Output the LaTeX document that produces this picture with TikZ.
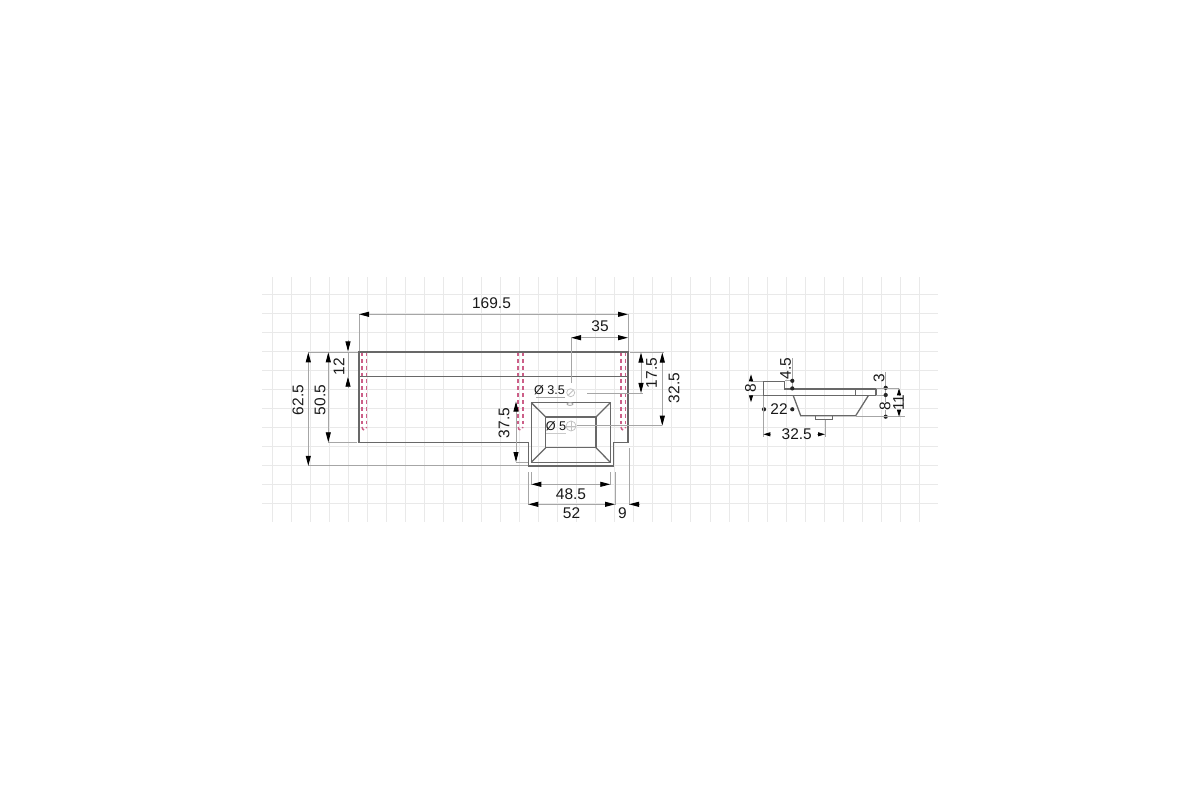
\documentclass[tikz,border=0pt]{standalone}
\usepackage{fontspec}
\setmainfont{Liberation Sans}
\usepackage{xcolor}
\usetikzlibrary{arrows.meta}
\definecolor{gridgray}{HTML}{E9E9E9}
\definecolor{dimgray}{HTML}{A6A6A6}
\definecolor{edgegray}{HTML}{686868}
\definecolor{holered}{HTML}{CC5F88}
\tikzset{
    sheetgrid/.style={gridgray, line width=0.28pt},
    outline/.style={edgegray, line width=0.36pt},
    dimline/.style={dimgray, line width=0.24pt},
    dimarrow/.style={dimgray, line width=0.24pt, -{Stealth[length=0.1cm, width=0.05cm, black, inset=0pt]}},
    tinyarrow/.style={dimgray, line width=0.24pt, -{Stealth[length=0.07cm, width=0.04cm, black, inset=0pt]}},
    holeline/.style={holered, line width=0.42pt, dash pattern=on 1.1pt off 0.85pt},
    label/.style={inner sep=0pt, text=black!90, font=\fontsize{4.4}{5}\selectfont},
    smalllabel/.style={label, font=\fontsize{3.6}{4}\selectfont},
    spot/.style={black!85, fill, inner sep=0pt, minimum size=0.042cm, circle},
    ringmark/.style={dimgray!70, draw, circle, line width=0.2pt, inner sep=0pt}
}
\begin{document}
\begin{tikzpicture}[x=0.01cm, y=-0.01cm]
    \useasboundingbox[fill=white] (0,0) rectangle (1200,800);
    % sheet grid
    \foreach \x in {0,...,34}
        \draw[sheetgrid] (272.3+19.03*\x,277) -- (272.3+19.03*\x,522);
    \foreach \y in {0,...,11}
        \draw[sheetgrid] (262,294.3+19.03*\y) -- (938,294.3+19.03*\y);
    % fixing holes
    \foreach \x in {362,518.2,621}{
        \draw[holeline] (\x,352) -- (\x,427);
        \draw[holeline] (\x+4.6,352) -- (\x+4.6,427);
        \draw[holeline] (\x,427) arc[start angle=180, end angle=0, x radius=2.3, y radius=3];
    }
    % top view
    \draw[outline] (359,352) -- (628,352) -- (628,442.3) -- (613.5,442.3) -- (613.5,466) -- (528.3,466) -- (528.3,442.3) -- (359,442.3) -- cycle;
    \draw[outline] (359,376.7) -- (628,376.7);
    \draw[outline] (531.3,402.7) rectangle (610.3,462.3);
    \draw[outline] (545.7,417) rectangle (596,447.7);
    \foreach \a/\b in {531.3/545.7,610.3/596}{
        \draw[outline] (\a,402.7) -- (\b,417);
        \draw[outline] (\a,462.3) -- (\b,447.7);
    }
    \draw[dimline] (570,404) ellipse (3 and 1.4);
    % overall sizes
    \draw[dimline] (359,314.3) -- (359,351);
    \draw[dimline] (628,314.3) -- (628,351);
    \draw[dimarrow] (369,314.3) -- (359,314.3);
    \draw[dimarrow] (369,314.3) -- (628,314.3);
    \node[label] (len) at (491.5,303.5) {169.5};
    \draw[dimline] (571,337.7) -- (571,383);
    \draw[dimarrow] (581,337.7) -- (571,337.7);
    \draw[dimarrow] (581,337.7) -- (628,337.7);
    \node[label] (edge) at (600,326.5) {35};
    % left side
    \draw[dimline] (308.3,352.3) -- (358,352.3);
    \draw[dimline] (308.3,465.8) -- (528,465.8);
    \draw[dimline] (328.3,442.3) -- (357,442.3);
    \draw[dimarrow] (308.3,400) -- (308.3,352.3);
    \draw[dimarrow] (308.3,400) -- (308.3,465.8);
    \draw[dimarrow] (328.3,400) -- (328.3,352.3);
    \draw[dimarrow] (328.3,400) -- (328.3,442.3);
    \node[label, rotate=90] (full) at (298,400) {62.5};
    \node[label, rotate=90] (deck) at (320,400) {50.5};
    \draw[dimline] (348,352) -- (348,376.7);
    \draw[dimarrow] (348,340) -- (348,351.5);
    \draw[dimarrow] (348,387) -- (348,376.7);
    \node[label, rotate=90] (shelf) at (339,366.7) {12};
    % right side
    \draw[dimline] (630,352) -- (664,352);
    \draw[dimline] (587,393) -- (643,393);
    \draw[dimline] (577,425.7) -- (662.3,425.7);
    \draw[dimarrow] (641,372) -- (641,352.5);
    \draw[dimarrow] (641,372) -- (641,393);
    \draw[dimarrow] (662.3,388) -- (662.3,352.5);
    \draw[dimarrow] (662.3,388) -- (662.3,425.7);
    \node[label, rotate=90] (holea) at (651.7,373) {17.5};
    \node[label, rotate=90] (holeb) at (674,388) {32.5};
    % tap hole and drain
    \node[smalllabel] (tap) at (549.5,390) {Ø 3.5};
    \draw[dimline] (536,397) -- (565,397);
    \node[ringmark, minimum size=0.08cm] (taphole) at (570.7,392.7) {};
    \draw[dimline, dimgray!70] (568,395.5) -- (573.5,390);
    \node[smalllabel] (drain) at (556,426.5) {Ø 5};
    \draw[dimline, dimgray!60] (546,433) -- (566,433);
    \node[ringmark, minimum size=0.1cm] (drainhole) at (571,426) {};
    \draw[dimline, dimgray!70] (drainhole.north) -- (drainhole.south);
    \draw[dimline, dimgray!70] (drainhole.west) -- (drainhole.east);
    \draw[dimline] (516,462) -- (528,462);
    \draw[dimarrow] (516,430) -- (516,401.5);
    \draw[dimarrow] (516,430) -- (516,462);
    \node[label, rotate=90] (basin) at (504,423) {37.5};
    % below
    \draw[dimline] (531.3,472) -- (531.3,485);
    \draw[dimline] (610.3,472) -- (610.3,485);
    \draw[dimline] (528.3,472) -- (528.3,505);
    \draw[dimline] (615,472) -- (615,505);
    \draw[dimline] (629,448) -- (629,505);
    \draw[dimarrow] (571,484.3) -- (531.3,484.3);
    \draw[dimarrow] (571,484.3) -- (610.3,484.3);
    \node[label] (inner) at (571,494) {48.5};
    \draw[dimarrow] (571,504.3) -- (528.3,504.3);
    \draw[dimarrow] (571,504.3) -- (615,504.3);
    \node[label] (outer) at (571.5,513.5) {52};
    \draw[dimarrow] (640,504.3) -- (629,504.3);
    \node[label] (stepw) at (622.5,513.5) {9};
    % side view
    \draw[outline] (763.3,381.7) -- (784.5,381.7) -- (784.5,389) -- (876,389) -- (876,395.7) -- (763.3,395.7) -- cycle;
    \draw[outline] (855.7,389) -- (855.7,395.7);
    \draw[outline] (793.3,395.7) -- (800.7,415.7) -- (855.7,415.7) -- (868.3,395.7);
    \draw[outline] (815.3,415.7) rectangle (832.7,419.7);
    \draw[dimline] (751,381.7) -- (763,381.7);
    \draw[dimline] (751,395.7) -- (763,395.7);
    \draw[tinyarrow] (751,381.7) -- (751,374.3);
    \draw[tinyarrow] (751,395.7) -- (751,402.3);
    \node[label, rotate=90] (lip) at (750.5,388.5) {8};
    \draw[dimline] (792.3,358) -- (792.3,389);
    \draw[dimline] (785,380.8) -- (792,380.8);
    \node[spot] (lipa) at (792.3,380.8) {};
    \node[spot] (lipb) at (792.3,388.4) {};
    \node[label, rotate=90] (liptext) at (785.7,368.3) {4.5};
    \draw[dimline] (885.7,372) -- (885.7,416.7);
    \draw[dimline] (876,395.2) -- (886,395.2);
    \node[spot] (rima) at (885.7,387.8) {};
    \node[spot] (rimb) at (885.7,395) {};
    \node[spot] (rimc) at (885.7,416.7) {};
    \node[label, rotate=90] (rim) at (879,378) {3};
    \node[label, rotate=90, fill=white] (bowl) at (885,406) {8};
    \draw[dimline] (856,416.7) -- (905,416.7);
    \draw[dimline] (876,388.3) -- (899,388.3);
    \draw[tinyarrow] (899,395) -- (899,388.3);
    \draw[tinyarrow] (899,410) -- (899,416.7);
    \node[label, rotate=90] (total) at (898.5,402.7) {11};
    \node[spot] (bowla) at (764,409.3) {};
    \node[spot] (bowlb) at (792.3,409.3) {};
    \node[label] (bowlw) at (779,409.3) {22};
    \draw[dimline] (763.3,396) -- (763.3,437);
    \draw[dimline] (825,420) -- (825,437);
    \draw[tinyarrow] (771,434.3) -- (763.3,434.3);
    \draw[tinyarrow] (817,434.3) -- (825,434.3);
    \node[label] (bowlc) at (796.7,434.3) {32.5};
\end{tikzpicture}
\end{document}
